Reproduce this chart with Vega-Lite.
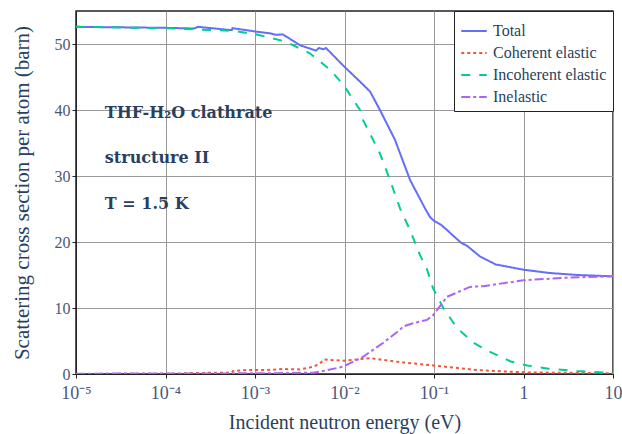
{
  "$schema": "https://vega.github.io/schema/vega-lite/v6.json",
  "width": 537,
  "height": 363,
  "autosize": "none",
  "padding": {"left": 76, "top": 11, "right": 9, "bottom": 60},
  "background": "white",
  "config": {
    "view": {"stroke": "#222222", "strokeWidth": 1.5},
    "font": "Liberation Serif"
  },
  "datasets": {
    "curves": [
      {"series": "Total", "energy": 0.00001, "sigma": 52.6},
      {"series": "Total", "energy": 0.0001, "sigma": 52.45},
      {"series": "Total", "energy": 0.00021, "sigma": 52.35},
      {"series": "Total", "energy": 0.00023, "sigma": 52.6},
      {"series": "Total", "energy": 0.00055, "sigma": 52.1},
      {"series": "Total", "energy": 0.00056, "sigma": 52.4},
      {"series": "Total", "energy": 0.0008, "sigma": 52.1},
      {"series": "Total", "energy": 0.001, "sigma": 51.9},
      {"series": "Total", "energy": 0.0015, "sigma": 51.6},
      {"series": "Total", "energy": 0.0017, "sigma": 51.4},
      {"series": "Total", "energy": 0.00205, "sigma": 51.45},
      {"series": "Total", "energy": 0.0032, "sigma": 49.8},
      {"series": "Total", "energy": 0.0048, "sigma": 49.0},
      {"series": "Total", "energy": 0.0052, "sigma": 49.4},
      {"series": "Total", "energy": 0.0058, "sigma": 49.2},
      {"series": "Total", "energy": 0.0062, "sigma": 49.4},
      {"series": "Total", "energy": 0.0099, "sigma": 46.6},
      {"series": "Total", "energy": 0.0149, "sigma": 44.3},
      {"series": "Total", "energy": 0.0193, "sigma": 42.8},
      {"series": "Total", "energy": 0.0249, "sigma": 40.0},
      {"series": "Total", "energy": 0.0366, "sigma": 35.5},
      {"series": "Total", "energy": 0.054, "sigma": 29.4},
      {"series": "Total", "energy": 0.0793, "sigma": 25.1},
      {"series": "Total", "energy": 0.09, "sigma": 23.8},
      {"series": "Total", "energy": 0.1, "sigma": 23.2},
      {"series": "Total", "energy": 0.12, "sigma": 22.6},
      {"series": "Total", "energy": 0.14, "sigma": 21.8},
      {"series": "Total", "energy": 0.2, "sigma": 19.9},
      {"series": "Total", "energy": 0.235, "sigma": 19.4},
      {"series": "Total", "energy": 0.327, "sigma": 17.8},
      {"series": "Total", "energy": 0.49, "sigma": 16.6},
      {"series": "Total", "energy": 1.0, "sigma": 15.8},
      {"series": "Total", "energy": 1.98, "sigma": 15.3},
      {"series": "Total", "energy": 4.0, "sigma": 15.0},
      {"series": "Total", "energy": 10.0, "sigma": 14.8},

      {"series": "Coherent elastic", "energy": 0.00001, "sigma": 0.0},
      {"series": "Coherent elastic", "energy": 0.00015, "sigma": 0.05},
      {"series": "Coherent elastic", "energy": 0.00019, "sigma": 0.15},
      {"series": "Coherent elastic", "energy": 0.00055, "sigma": 0.2},
      {"series": "Coherent elastic", "energy": 0.00057, "sigma": 0.45},
      {"series": "Coherent elastic", "energy": 0.00082, "sigma": 0.6},
      {"series": "Coherent elastic", "energy": 0.00136, "sigma": 0.6},
      {"series": "Coherent elastic", "energy": 0.00206, "sigma": 0.75},
      {"series": "Coherent elastic", "energy": 0.0032, "sigma": 0.7},
      {"series": "Coherent elastic", "energy": 0.0045, "sigma": 1.1},
      {"series": "Coherent elastic", "energy": 0.0053, "sigma": 1.6},
      {"series": "Coherent elastic", "energy": 0.006, "sigma": 2.2},
      {"series": "Coherent elastic", "energy": 0.0096, "sigma": 2.0},
      {"series": "Coherent elastic", "energy": 0.0193, "sigma": 2.4},
      {"series": "Coherent elastic", "energy": 0.0417, "sigma": 1.8},
      {"series": "Coherent elastic", "energy": 0.0975, "sigma": 1.3},
      {"series": "Coherent elastic", "energy": 0.3, "sigma": 0.6},
      {"series": "Coherent elastic", "energy": 1.0, "sigma": 0.25},
      {"series": "Coherent elastic", "energy": 10.0, "sigma": 0.1},

      {"series": "Incoherent elastic", "energy": 0.00001, "sigma": 52.6},
      {"series": "Incoherent elastic", "energy": 0.0001, "sigma": 52.4},
      {"series": "Incoherent elastic", "energy": 0.00023, "sigma": 52.2},
      {"series": "Incoherent elastic", "energy": 0.00056, "sigma": 52.0},
      {"series": "Incoherent elastic", "energy": 0.001, "sigma": 51.5},
      {"series": "Incoherent elastic", "energy": 0.00216, "sigma": 50.4},
      {"series": "Incoherent elastic", "energy": 0.0041, "sigma": 48.6},
      {"series": "Incoherent elastic", "energy": 0.0069, "sigma": 46.1},
      {"series": "Incoherent elastic", "energy": 0.0099, "sigma": 43.7},
      {"series": "Incoherent elastic", "energy": 0.0115, "sigma": 42.3},
      {"series": "Incoherent elastic", "energy": 0.0149, "sigma": 40.0},
      {"series": "Incoherent elastic", "energy": 0.0161, "sigma": 38.5},
      {"series": "Incoherent elastic", "energy": 0.0249, "sigma": 33.4},
      {"series": "Incoherent elastic", "energy": 0.0322, "sigma": 29.4},
      {"series": "Incoherent elastic", "energy": 0.0417, "sigma": 25.1},
      {"series": "Incoherent elastic", "energy": 0.054, "sigma": 21.8},
      {"series": "Incoherent elastic", "energy": 0.0698, "sigma": 18.0},
      {"series": "Incoherent elastic", "energy": 0.0828, "sigma": 16.0},
      {"series": "Incoherent elastic", "energy": 0.0975, "sigma": 13.0},
      {"series": "Incoherent elastic", "energy": 0.127, "sigma": 10.0},
      {"series": "Incoherent elastic", "energy": 0.18, "sigma": 7.0},
      {"series": "Incoherent elastic", "energy": 0.273, "sigma": 4.8},
      {"series": "Incoherent elastic", "energy": 0.4, "sigma": 3.5},
      {"series": "Incoherent elastic", "energy": 0.72, "sigma": 1.9},
      {"series": "Incoherent elastic", "energy": 1.1, "sigma": 1.3},
      {"series": "Incoherent elastic", "energy": 1.9, "sigma": 0.8},
      {"series": "Incoherent elastic", "energy": 3.96, "sigma": 0.45},
      {"series": "Incoherent elastic", "energy": 10.0, "sigma": 0.15},

      {"series": "Inelastic", "energy": 0.00001, "sigma": 0.05},
      {"series": "Inelastic", "energy": 0.001, "sigma": 0.1},
      {"series": "Inelastic", "energy": 0.0045, "sigma": 0.2},
      {"series": "Inelastic", "energy": 0.0053, "sigma": 0.35},
      {"series": "Inelastic", "energy": 0.0096, "sigma": 1.1},
      {"series": "Inelastic", "energy": 0.0161, "sigma": 2.6},
      {"series": "Inelastic", "energy": 0.0269, "sigma": 4.7},
      {"series": "Inelastic", "energy": 0.0417, "sigma": 6.7},
      {"series": "Inelastic", "energy": 0.0451, "sigma": 7.2},
      {"series": "Inelastic", "energy": 0.0582, "sigma": 7.7},
      {"series": "Inelastic", "energy": 0.0836, "sigma": 8.2},
      {"series": "Inelastic", "energy": 0.0975, "sigma": 8.9},
      {"series": "Inelastic", "energy": 0.14, "sigma": 11.7},
      {"series": "Inelastic", "energy": 0.2, "sigma": 12.6},
      {"series": "Inelastic", "energy": 0.252, "sigma": 13.2},
      {"series": "Inelastic", "energy": 0.352, "sigma": 13.3},
      {"series": "Inelastic", "energy": 1.0, "sigma": 14.2},
      {"series": "Inelastic", "energy": 3.06, "sigma": 14.6},
      {"series": "Inelastic", "energy": 10.0, "sigma": 14.8}
    ],
    "notes": [
      {"label": "THF-H₂O clathrate", "energy": 0.000021, "sigma": 39.6},
      {"label": "structure II", "energy": 0.000021, "sigma": 32.8},
      {"label": "T = 1.5 K", "energy": 0.000021, "sigma": 25.7}
    ]
  },
  "layer": [
    {
      "data": {"name": "curves"},
      "mark": {"type": "line", "strokeWidth": 2, "clip": true},
      "encoding": {
        "x": {
          "field": "energy",
          "type": "quantitative",
          "scale": {"type": "log", "domain": [0.00001, 10], "nice": false},
          "axis": {
            "title": "Incident neutron energy (eV)",
            "values": [0.00001, 0.0001, 0.001, 0.01, 0.1, 1, 10],
            "labelExpr": "datum.value < 0.00002 ? '10⁻⁵' : datum.value < 0.0002 ? '10⁻⁴' : datum.value < 0.002 ? '10⁻³' : datum.value < 0.02 ? '10⁻²' : datum.value < 0.2 ? '10⁻¹' : datum.value < 2 ? '1' : '10'",
            "grid": true,
            "gridColor": "#999999",
            "gridWidth": 1,
            "domain": true,
            "domainColor": "#222222",
            "ticks": true,
            "tickSize": 4,
            "tickColor": "#222222",
            "labelFont": "Liberation Serif",
            "labelFontSize": 18,
            "labelColor": "#4a5878",
            "labelPadding": 6,
            "labelFlush": false,
            "titleFont": "Liberation Serif",
            "titleFontSize": 20,
            "titleFontWeight": "normal",
            "titleColor": "#2a3f5f",
            "titlePadding": 10
          }
        },
        "y": {
          "field": "sigma",
          "type": "quantitative",
          "scale": {"domain": [0, 55], "nice": false},
          "axis": {
            "title": "Scattering cross section per atom (barn)",
            "values": [0, 10, 20, 30, 40, 50],
            "grid": true,
            "gridColor": "#999999",
            "gridWidth": 1,
            "domain": true,
            "domainColor": "#222222",
            "ticks": true,
            "tickSize": 4,
            "tickColor": "#222222",
            "labelFont": "Liberation Serif",
            "labelFontSize": 16,
            "labelColor": "#4a5878",
            "labelPadding": 2,
            "titleFont": "Liberation Serif",
            "titleFontSize": 21,
            "titleFontWeight": "normal",
            "titleColor": "#2a3f5f",
            "titlePadding": 22
          }
        },
        "color": {
          "field": "series",
          "type": "nominal",
          "scale": {
            "domain": ["Total", "Coherent elastic", "Incoherent elastic", "Inelastic"],
            "range": ["#636efa", "#ef553b", "#00cc96", "#ab63fa"]
          },
          "legend": {
            "title": null,
            "orient": "top-right",
            "offset": 0,
            "symbolType": "stroke",
            "symbolSize": 650,
            "symbolStrokeWidth": 2,
            "labelFont": "Liberation Serif",
            "labelFontSize": 16,
            "labelColor": "#2a3f5f",
            "labelLimit": 200,
            "labelOffset": 5,
            "rowPadding": 0,
            "padding": 6,
            "strokeColor": "#222222",
            "fillColor": "white"
          }
        },
        "strokeDash": {
          "field": "series",
          "type": "nominal",
          "scale": {
            "domain": ["Total", "Coherent elastic", "Incoherent elastic", "Inelastic"],
            "range": [[1, 0], [3, 3], [9, 9], [9, 3, 3, 3]]
          },
          "legend": null
        }
      }
    },
    {
      "data": {"name": "notes"},
      "mark": {
        "type": "text",
        "align": "left",
        "baseline": "middle",
        "font": "DejaVu Serif",
        "fontWeight": "bold",
        "fontSize": 16,
        "color": "#2a3f5f"
      },
      "encoding": {
        "x": {"field": "energy", "type": "quantitative"},
        "y": {"field": "sigma", "type": "quantitative"},
        "text": {"field": "label", "type": "nominal"}
      }
    }
  ]
}
